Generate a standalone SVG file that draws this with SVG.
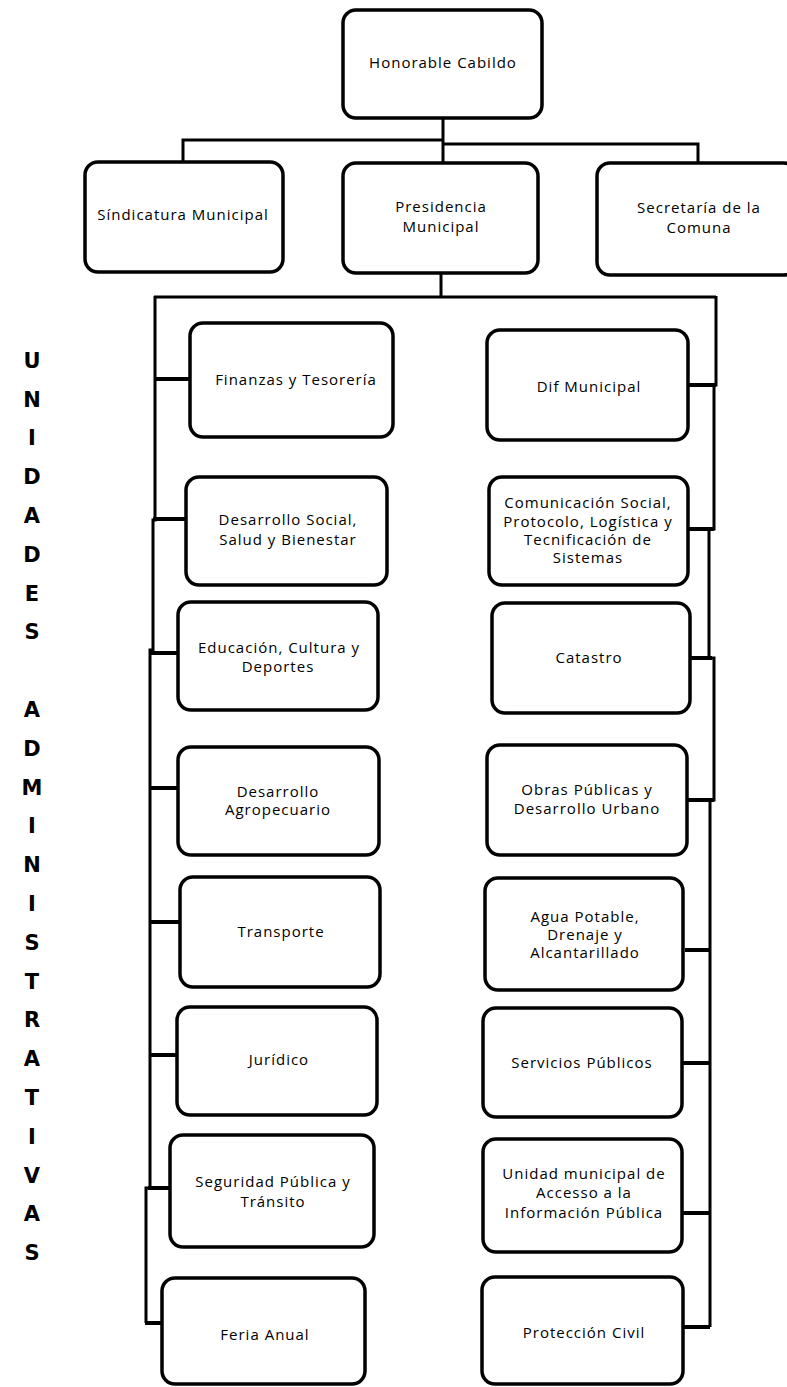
<svg xmlns="http://www.w3.org/2000/svg" width="787" height="1387" viewBox="0 0 787 1387">
<style>
.box{fill:#fff;stroke:#000;stroke-width:3.5}
.t{font-family:"Open Sans","Liberation Sans",sans-serif;font-size:15px;letter-spacing:1px;text-anchor:middle;fill:#000}
.v{font-family:"DejaVu Sans","Liberation Sans",sans-serif;font-size:21px;font-weight:bold;text-anchor:middle;fill:#000}
.c{fill:none;stroke:#000;stroke-width:3}
.b{fill:none;stroke:#000;stroke-width:4}
</style>
<rect width="787" height="1387" fill="#fff"/>
<g id="connectors">
<path class="c" d="M443 118 V163"/>
<path class="c" d="M183 163 V140 H443"/>
<path class="c" d="M443 144 H698 V164"/>
<path class="c" d="M441 273 V297"/>
<path class="c" d="M154 297 H716"/>
<path class="c" d="M155 296 V520 H153 V650 H150 V1188 H146 V1323"/>
<path class="b" d="M155 379 H190"/>
<path class="b" d="M153 519 H186"/>
<path class="b" d="M150 653 H178"/>
<path class="b" d="M150 788 H178"/>
<path class="b" d="M150 922 H180"/>
<path class="b" d="M149 1055 H177"/>
<path class="b" d="M148 1188 H170"/>
<path class="b" d="M145 1323 H162"/>
<path class="c" d="M716 296 V385 H714 V529 H709 V658 H714 V800 H710 V1327"/>
<path class="b" d="M688 385 H716"/>
<path class="b" d="M688 529 H714"/>
<path class="b" d="M690 658 H712"/>
<path class="b" d="M687 800 H714"/>
<path class="b" d="M685 950 H710"/>
<path class="b" d="M682 1063 H710"/>
<path class="b" d="M682 1213 H710"/>
<path class="b" d="M683 1327 H710"/>
</g>
<g id="n-cabildo"><rect class="box" x="343" y="10" width="199" height="108" rx="13"/><text class="t" x="443" y="68">Honorable Cabildo</text></g>
<g id="n-sindicatura"><rect class="box" x="85" y="162" width="198" height="110" rx="13"/><text class="t" x="183" y="220">Síndicatura Municipal</text></g>
<g id="n-presidencia"><rect class="box" x="343" y="163" width="195" height="110" rx="13"/><text class="t" x="441" y="212">Presidencia</text><text class="t" x="441" y="232">Municipal</text></g>
<g id="n-secretaria"><rect class="box" x="597" y="163" width="200" height="112" rx="13"/><text class="t" x="699" y="213">Secretaría de la</text><text class="t" x="699" y="233">Comuna</text></g>
<g id="n-finanzas"><rect class="box" x="190" y="323" width="203" height="114" rx="13"/><text class="t" x="296" y="385">Finanzas y Tesorería</text></g>
<g id="n-desarrollo-social"><rect class="box" x="186" y="477" width="201" height="108" rx="13"/><text class="t" x="288" y="525">Desarrollo Social,</text><text class="t" x="288" y="545">Salud y Bienestar</text></g>
<g id="n-educacion"><rect class="box" x="178" y="602" width="200" height="108" rx="13"/><text class="t" x="279" y="653">Educación, Cultura  y</text><text class="t" x="278" y="672">Deportes</text></g>
<g id="n-agropecuario"><rect class="box" x="178" y="747" width="201" height="108" rx="13"/><text class="t" x="278" y="797">Desarrollo</text><text class="t" x="278" y="815">Agropecuario</text></g>
<g id="n-transporte"><rect class="box" x="180" y="877" width="200" height="110" rx="13"/><text class="t" x="281" y="937">Transporte</text></g>
<g id="n-juridico"><rect class="box" x="177" y="1007" width="200" height="108" rx="13"/><text class="t" x="279" y="1065">Jurídico</text></g>
<g id="n-seguridad"><rect class="box" x="170" y="1135" width="204" height="112" rx="13"/><text class="t" x="273" y="1187">Seguridad Pública y</text><text class="t" x="273" y="1207">Tránsito</text></g>
<g id="n-feria"><rect class="box" x="162" y="1278" width="203" height="106" rx="13"/><text class="t" x="265" y="1340">Feria Anual</text></g>
<g id="n-dif"><rect class="box" x="487" y="330" width="201" height="110" rx="13"/><text class="t" x="589" y="392">Dif Municipal</text></g>
<g id="n-comunicacion"><rect class="box" x="489" y="477" width="199" height="108" rx="13"/><text class="t" x="588" y="508">Comunicación Social,</text><text class="t" x="588" y="527">Protocolo, Logística y</text><text class="t" x="588" y="545">Tecnificación de</text><text class="t" x="588" y="563">Sistemas</text></g>
<g id="n-catastro"><rect class="box" x="492" y="603" width="198" height="110" rx="13"/><text class="t" x="589" y="663">Catastro</text></g>
<g id="n-obras"><rect class="box" x="487" y="745" width="200" height="110" rx="13"/><text class="t" x="587" y="795">Obras Públicas y</text><text class="t" x="587" y="814">Desarrollo Urbano</text></g>
<g id="n-agua"><rect class="box" x="485" y="878" width="198" height="112" rx="13"/><text class="t" x="585" y="922">Agua Potable,</text><text class="t" x="585" y="940">Drenaje y</text><text class="t" x="585" y="958">Alcantarillado</text></g>
<g id="n-servicios"><rect class="box" x="483" y="1008" width="199" height="109" rx="13"/><text class="t" x="582" y="1068">Servicios Públicos</text></g>
<g id="n-unidad"><rect class="box" x="483" y="1139" width="199" height="113" rx="13"/><text class="t" x="584" y="1179">Unidad municipal de</text><text class="t" x="584" y="1198">Accesso a la</text><text class="t" x="584" y="1218">Información Pública</text></g>
<g id="n-proteccion"><rect class="box" x="482" y="1277" width="201" height="107" rx="13"/><text class="t" x="584" y="1338">Protección Civil</text></g>
<g id="vertical-label">
<text class="v" x="32" y="368">U</text>
<text class="v" x="32" y="407">N</text>
<text class="v" x="32" y="445">I</text>
<text class="v" x="32" y="484">D</text>
<text class="v" x="32" y="523">A</text>
<text class="v" x="32" y="562">D</text>
<text class="v" x="32" y="601">E</text>
<text class="v" x="32" y="639">S</text>
<text class="v" x="32" y="717">A</text>
<text class="v" x="32" y="756">D</text>
<text class="v" x="32" y="795">M</text>
<text class="v" x="32" y="833">I</text>
<text class="v" x="32" y="872">N</text>
<text class="v" x="32" y="911">I</text>
<text class="v" x="32" y="950">S</text>
<text class="v" x="32" y="989">T</text>
<text class="v" x="32" y="1027">R</text>
<text class="v" x="32" y="1066">A</text>
<text class="v" x="32" y="1105">T</text>
<text class="v" x="32" y="1144">I</text>
<text class="v" x="32" y="1183">V</text>
<text class="v" x="32" y="1221">A</text>
<text class="v" x="32" y="1260">S</text>
</g>
</svg>
